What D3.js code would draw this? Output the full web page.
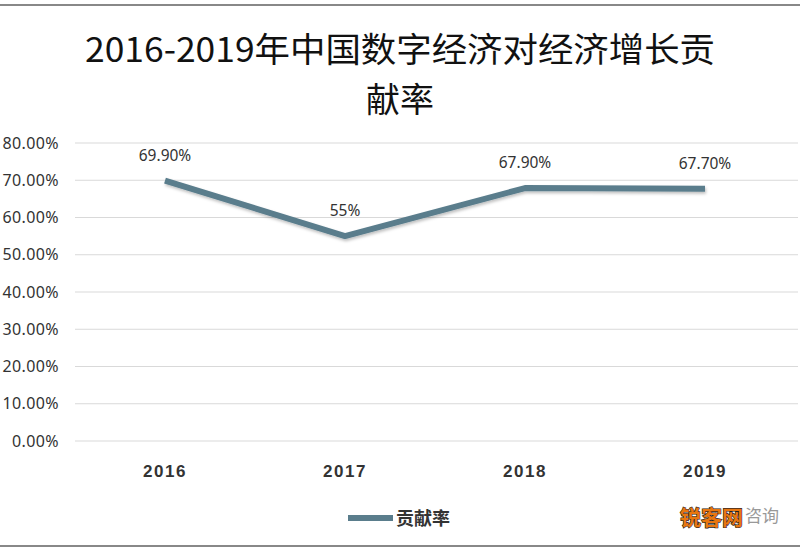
<!DOCTYPE html>
<html><head><meta charset="utf-8">
<script src="https://cdn.jsdelivr.net/npm/d3@7"></script>
<style>body{margin:0;background:#fff}</style>
</head><body>
<svg id="c" width="800" height="550"></svg>
<script>
const categories = ["2016","2017","2018","2019"];
const values = [69.9, 55, 67.9, 67.7];
const valueLabels = ["69.90%","55%","67.90%","67.70%"];
const yTicks = [0,10,20,30,40,50,60,70,80];
const titleLines = ["2016-2019年中国数字经济对经济增长贡","献率"];
const seriesName = "贡献率";

const svg = d3.select("#c");
const color = "#5a7d8c";
const defs = svg.append("defs");
const f = defs.append("filter").attr("id","sh").attr("x","-10%").attr("y","-50%").attr("width","120%").attr("height","200%");
f.append("feDropShadow").attr("dx",1).attr("dy",2).attr("stdDeviation",1.5).attr("flood-color","#000").attr("flood-opacity",0.25);

// frame lines
svg.append("line").attr("x1",0).attr("x2",800).attr("y1",5).attr("y2",5).attr("stroke","#888").attr("stroke-width",2);
svg.append("line").attr("x1",0).attr("x2",800).attr("y1",546).attr("y2",546).attr("stroke","#888").attr("stroke-width",2);

const x = d3.scaleBand().domain(categories).range([75,795]);
const y = d3.scaleLinear().domain([0,80]).range([441,143]);

// title
svg.append("g").selectAll("text").data(titleLines).join("text")
  .attr("x",400).attr("y",(d,i)=>62+i*50).attr("text-anchor","middle")
  .attr("font-family","'Noto Sans CJK SC'").attr("font-size",34).attr("fill","#111")
  .attr("textLength",(d,i)=>i===0?630:null).attr("lengthAdjust","spacingAndGlyphs")
  .text(d=>d);

// grid
svg.append("g").selectAll("line").data(yTicks).join("line")
  .attr("x1",75).attr("x2",798).attr("y1",d=>y(d)).attr("y2",d=>y(d))
  .attr("stroke","#d9d9d9").attr("stroke-width",1);

// y axis labels
const yAxis = d3.axisLeft(y).tickValues(yTicks).tickSize(0).tickFormat(d=>d3.format(".2f")(d)+"%");
const ga = svg.append("g").attr("transform","translate(59,0)").call(yAxis);
ga.select(".domain").remove();
ga.selectAll("text").attr("font-family","'Noto Sans','DejaVu Sans'").attr("font-size",16).attr("fill","#333").attr("letter-spacing",0.4).attr("x",0);

// x axis labels
const xAxis = d3.axisBottom(x).tickSize(0);
const gx = svg.append("g").attr("transform","translate(0,462)").call(xAxis);
gx.select(".domain").remove();
gx.selectAll("text").attr("font-family","'Liberation Sans',Arial").attr("font-weight","bold").attr("font-size",17).attr("letter-spacing",1.5).attr("fill","#333");

// line
const pts = categories.map((c,i)=>({c,v:values[i],l:valueLabels[i]}));
const line = d3.line().x(d=>x(d.c)+x.bandwidth()/2).y(d=>y(d.v));
svg.append("path").datum(pts).attr("d",line).attr("fill","none").attr("stroke",color)
  .attr("stroke-width",6).attr("stroke-linejoin","round").attr("filter","url(#sh)");

// data labels
svg.append("g").selectAll("text").data(pts).join("text")
  .attr("x",d=>x(d.c)+x.bandwidth()/2).attr("y",d=>y(d.v)-20).attr("text-anchor","middle")
  .attr("font-family","'Noto Sans','DejaVu Sans'").attr("font-size",15.5).attr("fill","#333")
  .text(d=>d.l);

// legend
svg.append("line").attr("x1",348).attr("x2",393).attr("y1",518).attr("y2",518).attr("stroke",color).attr("stroke-width",6);
svg.append("text").attr("x",396).attr("y",525).attr("font-family","'Noto Sans CJK SC'").attr("font-weight","bold")
  .attr("font-size",18).attr("fill","#333").text(seriesName);

// watermark
svg.append("text").attr("x",680).attr("y",525).attr("font-family","'Noto Sans CJK SC'").attr("font-weight","bold")
  .attr("font-size",21).attr("fill","#e8760f").attr("stroke","#222").attr("stroke-width",1.2).attr("paint-order","stroke")
  .text("锐客网");
svg.append("text").attr("x",745).attr("y",522).attr("font-family","'Noto Sans CJK SC'")
  .attr("font-size",17).attr("fill","#999").text("咨询");
</script>
</body></html>
